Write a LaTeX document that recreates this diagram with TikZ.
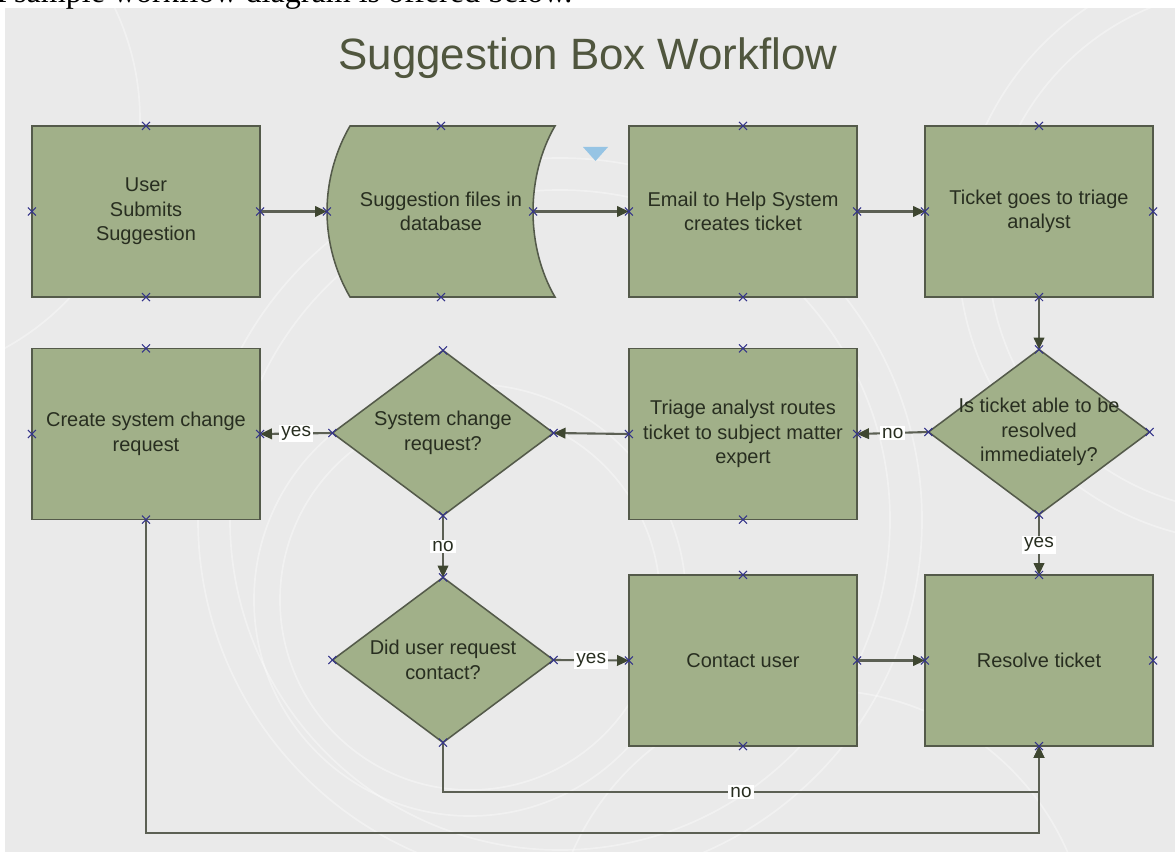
\documentclass[tikz,border=0pt]{standalone}
\usepackage{fontspec}
\setmainfont{Liberation Sans}
\newfontfamily\serifhead{Liberation Serif}
\usetikzlibrary{shapes.geometric,arrows.meta}

\definecolor{panel}{RGB}{234,234,234}
\definecolor{boxfill}{RGB}{161,176,137}
\definecolor{boxline}{RGB}{84,90,74}
\definecolor{wire}{RGB}{92,96,84}
\definecolor{tip}{RGB}{62,70,48}
\definecolor{ink}{RGB}{40,46,32}
\definecolor{titleink}{RGB}{80,86,62}
\definecolor{cpblue}{RGB}{52,52,138}
\definecolor{marker}{RGB}{150,196,228}

\begin{document}
\begin{tikzpicture}[x=0.025cm,y=-0.025cm,
  every node/.style={inner sep=0pt, outer sep=0pt},
  stepbox/.style={rectangle, draw=boxline, fill=boxfill, line width=1.1pt,
    minimum width=5.7cm, minimum height=4.275cm},
  decision/.style={diamond, draw=boxline, fill=boxfill, line width=1.1pt,
    minimum width=5.525cm, minimum height=4.125cm},
  body/.style={text=ink, font=\fontsize{14.2}{17.4}\selectfont, align=center},
  flow/.style={draw=wire, line width=1.5pt,
    -{Triangle[length=8.5pt,width=7.5pt,color=tip]}},
  lbl/.style={fill=white, text=ink, font=\fontsize{13.5}{16}\selectfont,
    inner xsep=1.5pt, inner ysep=1.2pt},
  cpx/.style={draw=cpblue, line width=0.75pt},
  swirl/.style={draw=white, line width=1.2pt, opacity=0.35}
]
\useasboundingbox (0,0) rectangle (1175,852);

% page background and decorative rings
\fill[panel] (5,8) rectangle (1175,852);
\begin{scope}
  \clip (5,8) rectangle (1175,852);
  \draw[swirl] (560,520) circle (330);
  \draw[swirl] (560,520) circle (362);
  \draw[swirl] (470,600) circle (190);
  \draw[swirl] (470,600) circle (216);
  \draw[swirl] (1250,250) circle (262);
  \draw[swirl] (1250,250) circle (292);
  \draw[swirl] (820,960) circle (270);
  \draw[swirl] (-120,120) circle (260);
\end{scope}

% caption above the panel
\node[anchor=base west, font=\serifhead\fontsize{22.8}{26}\selectfont] (head) at (-17,3)
  {A sample workflow diagram is offered below.};

% title
\node[anchor=base, text=titleink, font=\fontsize{31.2}{37}\selectfont] (title) at (588,70)
  {Suggestion Box Workflow};

% small marker
\fill[marker] (583,147) -- (608,147) -- (595.5,161) -- cycle;

% row 1
\node[stepbox, body] (A) at (146,211.5) {User\\Submits\\Suggestion};
\node[rectangle, minimum width=5.7cm, minimum height=4.275cm] (B) at (441,211.5) {};
\draw[draw=boxline, fill=boxfill, line width=1.1pt]
  (350,126) -- (555,126)
  .. controls (541,150) and (533,180) .. (533,211.5)
  .. controls (533,243) and (541,273) .. (555,297)
  -- (350,297)
  .. controls (336,273) and (327,243) .. (327,211.5)
  .. controls (327,180) and (336,150) .. (350,126) -- cycle;
\coordinate (B-r) at (533,211.5);
\node[body] (B-t) at (B) {Suggestion files in\\database};
\node[stepbox, body] (C) at (743,211.5) {Email to Help System\\creates ticket};
\node[stepbox, body] (D) at (1039,211.5) {Ticket goes to triage\\analyst};

% row 2
\node[stepbox, body] (E) at (146,434) {Create system change\\request};
\node[decision] (F) at (443,433) {};
\node[body] (F-t) at (F) {System change\\request?};
\node[stepbox, body] (G) at (743,434) {Triage analyst routes\\ticket to subject matter\\expert};
\node[decision] (H) at (1039,432) {};
\node[body] (H-t) at (H) {Is ticket able to be\\resolved\\immediately?};

% row 3
\node[decision] (I) at (443,660) {};
\node[body] (I-t) at (I) {Did user request\\contact?};
\node[stepbox, body] (J) at (743,660.5) {Contact user};
\node[stepbox, body] (K) at (1039,660.5) {Resolve ticket};

% return routes
\coordinate (norow) at (0,792);
\coordinate (sysrow) at (0,833);

% connectors
\draw[flow] (A.east) -- (B.west);
\draw[flow] (B-r) -- (C.west);
\draw[flow] (C.east) -- (D.west);
\draw[flow] (D.south) -- (H.north);
\draw[flow] (H.west) -- node[lbl] (l1) {no} (G.east);
\draw[flow] (G.west) -- (F.east);
\draw[flow] (F.west) -- node[lbl] (l2) {yes} (E.east);
\draw[flow] (F.south) -- node[lbl] (l3) {no} (I.north);
\draw[flow] (H.south) -- node[lbl] (l4) {yes} (K.north);
\draw[flow] (I.east) -- node[lbl] (l5) {yes} (J.west);
\draw[flow] (J.east) -- (K.west);
\draw[flow] (E.south) -- (E.south |- sysrow) -- (K.south |- sysrow) -- (K.south);
\draw[flow] (I.south) -- (I.south |- norow) -- node[lbl] (l6) {no} (K.south |- norow) -- (K.south);

% connection points
\foreach \n in {A,C,D,E,F,G,H,I,J,K}
  \foreach \a in {north,south,east,west}
    \draw[cpx] (\n.\a) +(-4,-4) -- +(4,4) +(-4,4) -- +(4,-4);
\foreach \p in {B.north,B.south,B.west,B-r}
  \draw[cpx] (\p) +(-4,-4) -- +(4,4) +(-4,4) -- +(4,-4);
\end{tikzpicture}
\end{document}
